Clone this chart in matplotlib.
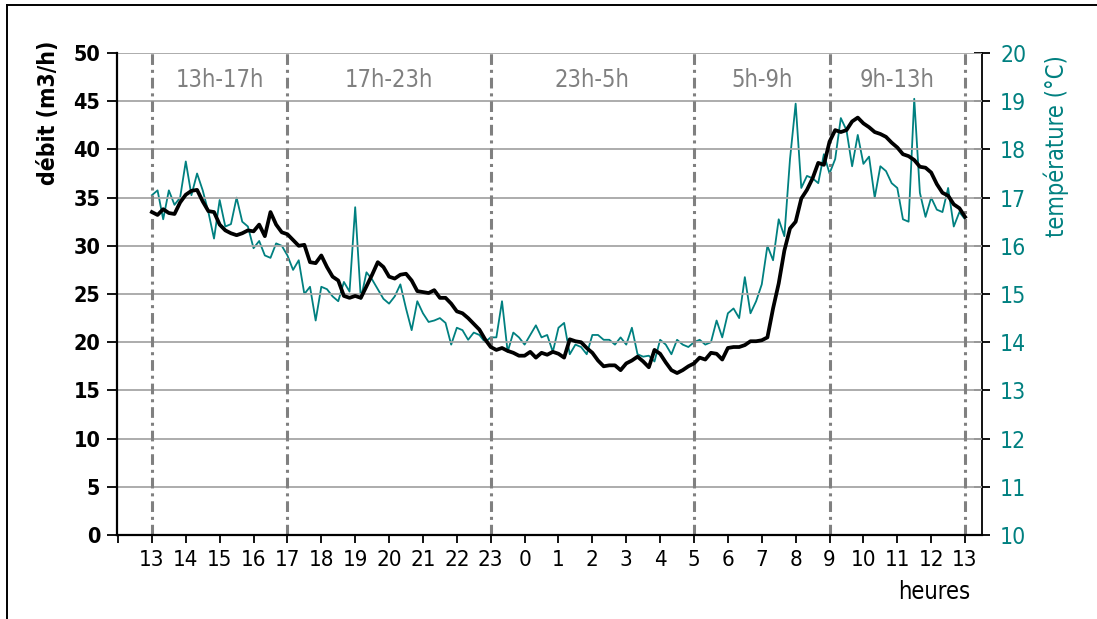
import os
import numpy as np
import matplotlib
matplotlib.use("Agg")
import matplotlib.pyplot as plt
from matplotlib import font_manager as fm
from matplotlib.lines import Line2D

# ---- data: one reading every 10 minutes, from 13h to 13h the next day ----
step_hours = 1 / 6

hour_labels = ["13", "14", "15", "16", "17", "18", "19", "20", "21", "22", "23",
               "0", "1", "2", "3", "4", "5", "6", "7", "8", "9", "10", "11", "12", "13"]

period_bounds = [0, 4, 10, 16, 20, 24]
period_labels = ["13h-17h", "17h-23h", "23h-5h", "5h-9h", "9h-13h"]

# flow rate (m3/h)
debit = [
    33.5, 33.2, 33.8, 33.4, 33.3, 34.5, 35.3, 35.7, 35.8, 34.6, 33.6, 33.5, 32.2,
    31.6, 31.3, 31.1, 31.3, 31.6, 31.5, 32.2, 31.0, 33.5, 32.2, 31.4, 31.2,
    30.6, 30.0, 30.1, 28.3, 28.2, 29.0, 27.8, 26.8, 26.4, 24.8, 24.6, 24.8, 24.6,
    25.8, 27.0, 28.3, 27.8, 26.8, 26.6, 27.0, 27.1, 26.4, 25.3, 25.2, 25.1,
    25.4, 24.6, 24.6, 24.0, 23.2, 23.0, 22.5, 21.9, 21.3, 20.3, 19.5, 19.2, 19.4,
    19.1, 18.9, 18.6, 18.6, 19.0, 18.4, 18.9, 18.7, 19.0, 18.8, 18.4, 20.3,
    20.1, 20.0, 19.4, 18.9, 18.1, 17.5, 17.6, 17.6, 17.1, 17.8, 18.1, 18.5, 18.0,
    17.4, 19.2, 18.8, 17.9, 17.1, 16.8, 17.1, 17.5, 17.8,
    18.4, 18.2, 18.9, 18.8, 18.2, 19.4, 19.5, 19.5, 19.7, 20.1, 20.1, 20.2, 20.5,
    23.5, 26.1, 29.5, 31.8, 32.5, 34.9, 35.8, 37.0, 38.6, 38.4, 40.8,
    42.0, 41.8, 42.0, 42.9, 43.3, 42.7, 42.3, 41.8, 41.6, 41.3, 40.7, 40.2, 39.5,
    39.3, 38.9, 38.2, 38.1, 37.6, 36.4, 35.5, 35.2, 34.3, 33.9, 33.0,
]

# water temperature (°C)
temperature = [
    17.05, 17.15, 16.55, 17.15, 16.85, 17.0, 17.75, 17.05, 17.5, 17.15, 16.7, 16.15,
    16.95, 16.4, 16.45, 17.0, 16.5, 16.4, 15.95, 16.1, 15.8, 15.75, 16.05, 16.0, 15.8,
    15.5, 15.7, 15.0, 15.15, 14.45, 15.15, 15.1, 14.95, 14.85, 15.25, 15.05, 16.8,
    14.9, 15.45, 15.3, 15.1, 14.9, 14.8, 14.95, 15.2, 14.7, 14.25, 14.85, 14.6, 14.42,
    14.45, 14.5, 14.4, 13.95, 14.3, 14.25, 14.05, 14.2, 14.15, 14.0, 14.1, 14.1,
    14.85, 13.8, 14.2, 14.1, 13.95, 14.15, 14.35, 14.1, 14.15, 13.8, 14.3, 14.4, 13.75,
    13.95, 13.9, 13.75, 14.15, 14.15, 14.05, 14.05, 13.95, 14.1, 13.95, 14.3, 13.75,
    13.7, 13.72, 13.6, 14.05, 13.95, 13.75, 14.05, 13.95, 13.9, 14.0,
    14.05, 13.95, 14.0, 14.45, 14.1, 14.6, 14.7, 14.5, 15.35, 14.6, 14.85, 15.2,
    16.0, 15.7, 16.55, 16.2, 17.8, 18.95, 17.2, 17.45, 17.4, 17.3, 17.9, 17.5,
    17.8, 18.65, 18.4, 17.65, 18.3, 17.7, 17.85, 17.0, 17.65, 17.55, 17.3, 17.2,
    16.55, 16.5, 19.05, 17.1, 16.6, 17.0, 16.75, 16.7, 17.2, 16.4, 16.7, 16.55,
]

TEAL = "#008080"
GREY = "#808080"


def _font_file(name):
    for f in fm.fontManager.ttflist:
        if os.path.basename(f.fname) == name:
            return f.fname
    return None


_COND = _font_file("DejaVuSansCondensed.ttf")
_COND_B = _font_file("DejaVuSansCondensed-Bold.ttf")


def font(size, bold=False):
    path = _COND_B if bold else _COND
    if path:
        return fm.FontProperties(fname=path, size=size)
    return fm.FontProperties(family="DejaVu Sans", size=size,
                             weight="bold" if bold else "normal")


t = np.arange(len(debit)) * step_hours

W, H = 1097, 619
fig = plt.figure(figsize=(W / 100, H / 100), dpi=100)
ax = fig.add_axes([117 / W, 1 - 535 / H, (982 - 117) / W, (535 - 53) / H])
ax2 = ax.twinx()

# horizontal grid and period separators
ax.set_ylim(0, 50)
ax.set_xlim(-1.03, 24.5)
ax.set_yticks(range(0, 51, 5))
ax.grid(axis="y", color="#a6a6a6", lw=1.3, zorder=0)
ax.set_axisbelow(True)
for b in period_bounds:
    ax.axvline(b, color=GREY, lw=2.2, linestyle=(0, (3.5, 1.6, 1.0, 1.6)), zorder=1)
for (a, b), lab in zip(zip(period_bounds[:-1], period_bounds[1:]), period_labels):
    ax.text((a + b) / 2, 47.2, lab, ha="center", va="center", color=GREY,
            fontproperties=font(17))

# series
ax2.plot(t, temperature, color=TEAL, lw=1.3, zorder=2)
ax.plot(t, debit, color="black", lw=2.7, zorder=3, solid_joinstyle="round")
ax.set_zorder(ax2.get_zorder() + 1)
ax.patch.set_visible(False)

ax2.set_ylim(10, 20)
ax2.set_yticks(range(10, 21))

# x axis
ax.set_xticks(range(-1, 25))
ax.set_xticklabels([""] + hour_labels)
for lbl in ax.get_xticklabels():
    lbl.set_fontproperties(font(16))
for lbl in ax.get_yticklabels():
    lbl.set_fontproperties(font(15.5, bold=True))
for lbl in ax2.get_yticklabels():
    lbl.set_fontproperties(font(16.5))

ax.tick_params(axis="x", direction="out", length=6, width=1.3, pad=5, colors="black")
ax.tick_params(axis="y", direction="out", length=7, width=1.3, pad=5, colors="black")
ax2.tick_params(axis="y", direction="inout", length=12, width=1.3, pad=7,
                color="black", labelcolor=TEAL)

for s in ("top", "right"):
    ax.spines[s].set_visible(False)
for s in ("left", "bottom"):
    ax.spines[s].set_linewidth(1.6)
for s in ("top", "left", "bottom"):
    ax2.spines[s].set_visible(False)
ax2.spines["right"].set_linewidth(1.3)

# axis titles
fig.text(48 / W, 1 - 113 / H, "débit (m3/h)", rotation=90, ha="center", va="center",
         fontproperties=font(16.5, bold=True))
fig.text(1056 / W, 1 - 146 / H, "température (°C)", rotation=90, ha="center",
         va="center", color=TEAL, fontproperties=font(17))
fig.text(970 / W, 1 - 592 / H, "heures", ha="right", va="center",
         fontproperties=font(17))

# outer frame
fig.add_artist(Line2D([7 / W, 7 / W], [0, 1 - 5 / H], transform=fig.transFigure,
                      color="black", lw=1.4))
fig.add_artist(Line2D([7 / W, 1], [1 - 5 / H, 1 - 5 / H], transform=fig.transFigure,
                      color="black", lw=1.4))

fig.savefig("out.png", dpi=100)
